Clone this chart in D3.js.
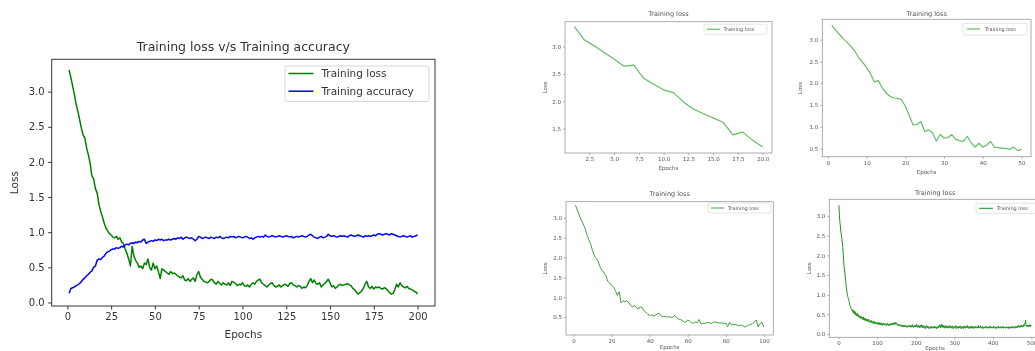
<!DOCTYPE html>
<html><head><meta charset="utf-8">
<script src="https://cdn.jsdelivr.net/npm/d3@7"></script>
<style>body{margin:0;background:#fff;} svg{display:block;font-family:"DejaVu Sans",sans-serif;}</style>
</head><body><svg id="c" width="1035" height="351"></svg>
<script>
const mainLoss = [3.31,3.20,3.08,2.96,2.82,2.72,2.60,2.48,2.38,2.34,
2.20,2.10,1.98,1.80,1.76,1.62,1.56,1.40,1.30,1.22,
1.13,1.06,1.02,0.98,0.96,0.93,0.92,0.94,0.90,0.92,
0.86,0.84,0.76,0.70,0.62,0.52,0.80,0.66,0.60,0.56,
0.50,0.52,0.48,0.56,0.54,0.62,0.50,0.46,0.56,0.48,
0.52,0.44,0.34,0.48,0.46,0.44,0.42,0.40,0.44,0.41,
0.42,0.40,0.38,0.36,0.35,0.38,0.32,0.31,0.34,0.30,
0.33,0.35,0.30,0.40,0.44,0.36,0.33,0.30,0.29,0.28,
0.30,0.33,0.32,0.28,0.26,0.30,0.27,0.25,0.28,0.26,
0.25,0.28,0.24,0.30,0.29,0.27,0.24,0.26,0.25,0.28,
0.24,0.23,0.25,0.22,0.26,0.28,0.26,0.30,0.32,0.33,
0.28,0.26,0.24,0.22,0.25,0.27,0.28,0.24,0.22,0.23,
0.25,0.22,0.24,0.26,0.25,0.23,0.27,0.28,0.25,0.24,
0.22,0.24,0.23,0.20,0.22,0.21,0.24,0.30,0.34,0.28,
0.32,0.27,0.26,0.28,0.22,0.25,0.27,0.30,0.33,0.28,
0.22,0.24,0.20,0.22,0.25,0.26,0.24,0.25,0.26,0.27,
0.25,0.24,0.20,0.18,0.15,0.12,0.14,0.16,0.20,0.26,
0.30,0.22,0.20,0.23,0.19,0.22,0.21,0.22,0.20,0.19,
0.21,0.20,0.17,0.14,0.12,0.13,0.18,0.26,0.22,0.28,
0.24,0.22,0.21,0.23,0.20,0.19,0.18,0.16,0.15,0.12];
const mainAcc = [0.13,0.20,0.21,0.22,0.24,0.25,0.27,0.30,0.33,0.35,
0.38,0.40,0.43,0.45,0.50,0.52,0.60,0.62,0.61,0.64,
0.66,0.70,0.72,0.73,0.75,0.76,0.76,0.78,0.77,0.78,
0.80,0.79,0.82,0.83,0.82,0.84,0.85,0.84,0.86,0.85,
0.87,0.86,0.89,0.90,0.84,0.86,0.87,0.88,0.87,0.89,
0.88,0.90,0.89,0.90,0.88,0.89,0.89,0.90,0.89,0.90,
0.91,0.90,0.92,0.91,0.93,0.90,0.92,0.93,0.92,0.91,
0.92,0.90,0.88,0.90,0.94,0.93,0.91,0.92,0.93,0.92,
0.91,0.93,0.92,0.91,0.93,0.92,0.94,0.92,0.91,0.92,
0.93,0.92,0.94,0.93,0.94,0.92,0.93,0.94,0.93,0.92,
0.93,0.94,0.93,0.91,0.92,0.90,0.92,0.93,0.94,0.93,
0.94,0.93,0.96,0.94,0.93,0.94,0.95,0.94,0.93,0.94,
0.95,0.94,0.93,0.94,0.95,0.94,0.93,0.94,0.92,0.93,
0.94,0.93,0.94,0.95,0.94,0.93,0.94,0.96,0.97,0.95,
0.93,0.92,0.91,0.93,0.94,0.92,0.93,0.94,0.97,0.95,
0.94,0.95,0.94,0.93,0.94,0.95,0.94,0.95,0.94,0.93,
0.95,0.96,0.95,0.94,0.95,0.96,0.95,0.94,0.93,0.95,
0.94,0.95,0.94,0.95,0.96,0.95,0.97,0.98,0.97,0.96,
0.97,0.98,0.97,0.96,0.98,0.97,0.96,0.95,0.94,0.93,
0.94,0.95,0.94,0.93,0.94,0.95,0.93,0.94,0.95,0.96];
const lossA = [3.36,3.12,3.01,2.89,2.77,2.64,2.66,2.42,2.31,2.21,
2.16,1.99,1.86,1.78,1.70,1.62,1.39,1.44,1.29,1.17];
const lossB = [3.33,3.22,3.12,3.02,2.94,2.84,2.73,2.58,2.48,2.36,
2.22,2.03,2.06,1.90,1.78,1.70,1.66,1.65,1.62,1.47,
1.26,1.04,1.05,1.12,0.89,0.93,0.86,0.67,0.82,0.74,
0.75,0.82,0.71,0.68,0.66,0.78,0.63,0.53,0.62,0.53,
0.58,0.66,0.53,0.52,0.50,0.50,0.48,0.53,0.45,0.48];
const lossC = [3.32,3.20,3.08,2.95,2.86,2.74,2.58,2.46,2.34,2.18,
2.04,1.98,1.90,1.76,1.68,1.62,1.55,1.40,1.36,1.30,
1.26,1.17,1.05,1.14,0.86,0.92,0.88,0.92,0.86,0.80,
0.75,0.80,0.74,0.70,0.76,0.74,0.66,0.62,0.58,0.54,
0.56,0.53,0.55,0.58,0.60,0.53,0.51,0.52,0.50,0.51,
0.50,0.49,0.54,0.50,0.46,0.44,0.42,0.38,0.37,0.43,
0.40,0.36,0.35,0.38,0.36,0.44,0.33,0.35,0.34,0.36,
0.37,0.34,0.36,0.38,0.37,0.36,0.35,0.36,0.34,0.35,
0.26,0.37,0.30,0.32,0.31,0.30,0.29,0.30,0.28,0.25,
0.27,0.30,0.31,0.34,0.38,0.43,0.25,0.34,0.37,0.25];
const lossD = [3.27,3.05,2.90,2.80,2.72,2.60,2.55,2.48,2.40,2.30,2.20,2.05,1.90,1.75,1.68,1.60,1.50,1.40,1.30,1.20,
1.12,1.05,1.00,0.95,0.92,0.88,0.85,0.80,0.76,0.72,0.70,0.66,0.64,0.62,0.60,0.58,0.62,0.54,0.60,0.56,
0.52,0.58,0.50,0.55,0.48,0.52,0.46,0.50,0.53,0.47,0.44,0.49,0.45,0.42,0.47,0.44,0.40,0.45,0.41,0.43,
0.38,0.42,0.37,0.40,0.44,0.36,0.39,0.35,0.41,0.37,0.34,0.38,0.36,0.33,0.37,0.32,0.35,0.38,0.31,0.34,
0.33,0.30,0.34,0.29,0.32,0.35,0.30,0.28,0.31,0.27,0.30,0.33,0.28,0.26,0.29,0.31,0.27,0.25,0.28,0.30,
0.26,0.29,0.24,0.27,0.30,0.25,0.28,0.23,0.26,0.29,0.24,0.27,0.25,0.22,0.26,0.28,0.24,0.26,0.23,0.25,
0.27,0.24,0.22,0.26,0.23,0.25,0.28,0.24,0.21,0.25,0.23,0.26,0.24,0.22,0.27,0.25,0.23,0.26,0.28,0.24,
0.27,0.25,0.29,0.26,0.24,0.28,0.30,0.25,0.27,0.29,0.26,0.23,0.25,0.22,0.24,0.21,0.23,0.25,0.22,0.20,
0.22,0.24,0.21,0.19,0.23,0.20,0.22,0.18,0.21,0.23,0.19,0.20,0.22,0.18,0.20,0.19,0.21,0.17,0.20,0.22,
0.19,0.21,0.18,0.20,0.23,0.19,0.17,0.20,0.22,0.18,0.21,0.24,0.19,0.17,0.21,0.18,0.20,0.23,0.19,0.21,
0.18,0.22,0.25,0.20,0.17,0.19,0.22,0.18,0.21,0.16,0.19,0.23,0.20,0.17,0.21,0.24,0.18,0.16,0.20,0.22,
0.19,0.15,0.18,0.21,0.17,0.14,0.19,0.22,0.18,0.16,0.20,0.17,0.15,0.19,0.16,0.14,0.18,0.15,0.17,0.20,
0.17,0.15,0.18,0.16,0.19,0.15,0.17,0.20,0.16,0.18,0.15,0.19,0.17,0.14,0.18,0.16,0.19,0.15,0.17,0.21,
0.18,0.23,0.19,0.16,0.22,0.25,0.18,0.21,0.17,0.24,0.20,0.17,0.21,0.18,0.15,0.19,0.22,0.17,0.20,0.16,
0.19,0.17,0.21,0.15,0.18,0.20,0.16,0.19,0.22,0.17,0.15,0.19,0.16,0.18,0.21,0.17,0.14,0.18,0.16,0.20,
0.17,0.15,0.19,0.22,0.17,0.14,0.18,0.16,0.20,0.17,0.15,0.19,0.16,0.18,0.21,0.16,0.14,0.18,0.20,0.17,
0.15,0.19,0.17,0.14,0.18,0.21,0.16,0.19,0.15,0.17,0.20,0.16,0.18,0.22,0.17,0.15,0.19,0.16,0.14,0.18,
0.20,0.16,0.18,0.15,0.19,0.17,0.21,0.16,0.14,0.18,0.15,0.19,0.17,0.20,0.16,0.18,0.15,0.17,0.19,0.16,
0.18,0.22,0.17,0.15,0.19,0.16,0.18,0.21,0.17,0.15,0.18,0.16,0.20,0.17,0.14,0.18,0.16,0.19,0.17,0.15,
0.19,0.16,0.18,0.20,0.16,0.15,0.18,0.17,0.15,0.19,0.16,0.18,0.21,0.17,0.15,0.18,0.16,0.19,0.17,0.15,
0.18,0.20,0.16,0.17,0.15,0.19,0.17,0.14,0.18,0.16,0.19,0.17,0.15,0.18,0.20,0.16,0.18,0.15,0.17,0.19,
0.16,0.18,0.15,0.17,0.20,0.16,0.18,0.15,0.19,0.17,0.16,0.18,0.15,0.17,0.19,0.16,0.18,0.15,0.17,0.19,
0.16,0.14,0.18,0.16,0.19,0.17,0.15,0.18,0.16,0.20,0.17,0.15,0.18,0.16,0.19,0.17,0.15,0.18,0.20,0.17,
0.19,0.16,0.18,0.21,0.17,0.19,0.22,0.18,0.20,0.17,0.19,0.22,0.18,0.20,0.23,0.19,0.21,0.18,0.20,0.24,
0.20,0.22,0.26,0.30,0.36,0.24,0.20,0.22,0.19,0.23,0.21,0.18,0.22,0.20,0.24,0.21,0.19,0.23,0.20,0.22];

const mainXTicks = [0,25,50,75,100,125,150,175,200];
const mainYTicks = [0,0.5,1,1.5,2,2.5,3];
const aXTicks = [2.5,5,7.5,10,12.5,15,17.5,20];
const aYTicks = [1.5,2,2.5,3];
const bXTicks = [0,10,20,30,40,50];
const bYTicks = [0.5,1,1.5,2,2.5,3];
const cXTicks = [0,20,40,60,80,100];
const cYTicks = [0.5,1,1.5,2,2.5,3];
const dXTicks = [0,100,200,300,400,500];
const dYTicks = [0,0.5,1,1.5,2,2.5,3];
const mainTitle = "Training loss v/s Training accuracy";
const smallTitle = "Training loss";
const seriesNames = ["Training loss","Training accuracy"];
const xLabel = "Epochs", yLabel = "Loss";

const svg = d3.select("#c");
svg.append("rect").attr("width",1035).attr("height",351).attr("fill","#fff");
const defs = svg.append("defs");
defs.append("filter").attr("id","soft").attr("x","-5%").attr("y","-5%").attr("width","110%").attr("height","110%")
  .append("feGaussianBlur").attr("stdDeviation",0.45);
const root = svg.append("g").attr("filter","url(#soft)");

function panel(o){
  const g = root.append("g");
  const x = d3.scaleLinear().domain(o.xDom).range([o.L,o.R]);
  const y = d3.scaleLinear().domain(o.yDom).range([o.B,o.T]);
  const cid = "clip"+o.id;
  defs.append("clipPath").attr("id",cid).append("rect")
    .attr("x",o.L).attr("y",o.T).attr("width",o.R-o.L).attr("height",o.B-o.T);
  const line = d3.line().x((d,i)=>x(i+1)).y(d=>y(d));
  o.series.forEach(s=>{
    g.append("path").datum(s.data).attr("d",line).attr("fill","none")
      .attr("stroke",s.color).attr("stroke-width",s.w).attr("stroke-linejoin","round")
      .attr("clip-path",`url(#${cid})`);
  });
  const xa = d3.axisBottom(x).tickValues(o.xTicks).tickFormat(o.xFmt)
    .tickSizeInner(o.tl).tickSizeOuter(0).tickPadding(o.tp);
  const ya = d3.axisLeft(y).tickValues(o.yTicks).tickFormat(o.yFmt)
    .tickSizeInner(o.tl).tickSizeOuter(0).tickPadding(o.tp);
  const gx = g.append("g").attr("transform",`translate(0,${o.B})`).call(xa);
  const gy = g.append("g").attr("transform",`translate(${o.L},0)`).call(ya);
  [gx,gy].forEach(a=>{
    a.select(".domain").remove();
    a.selectAll(".tick line").attr("stroke",o.axc).attr("stroke-width",o.sw);
    a.selectAll(".tick text").attr("fill",o.txc).attr("font-size",o.fs)
      .attr("font-family","DejaVu Sans, sans-serif");
  });
  g.append("rect").attr("x",o.L).attr("y",o.T).attr("width",o.R-o.L).attr("height",o.B-o.T)
    .attr("fill","none").attr("stroke",o.axc).attr("stroke-width",o.sw);
  g.append("text").attr("x",(o.L+o.R)/2).attr("y",o.T-o.titleOff).attr("text-anchor","middle")
    .attr("font-size",o.tfs).attr("fill",o.txc).text(o.title);
  g.append("text").attr("x",(o.L+o.R)/2).attr("y",o.B+o.xlOff).attr("text-anchor","middle")
    .attr("font-size",o.lfs).attr("fill",o.txc).text(xLabel);
  g.append("text").attr("transform",`translate(${o.L-o.ylOff},${(o.T+o.B)/2}) rotate(-90)`)
    .attr("text-anchor","middle").attr("font-size",o.lfs).attr("fill",o.txc).text(yLabel);
  const lg = o.legend;
  g.append("rect").attr("x",o.R-lg.right-lg.w).attr("y",o.T+lg.top).attr("width",lg.w).attr("height",lg.h)
    .attr("rx",lg.rx).attr("fill","#fff").attr("stroke",lg.stroke).attr("stroke-width",0.8);
  o.series.forEach((s,i)=>{
    const lx = o.R-lg.right-lg.w+lg.pad;
    const ly = o.T+lg.top+lg.first+i*lg.step;
    g.append("line").attr("x1",lx).attr("x2",lx+lg.len).attr("y1",ly).attr("y2",ly)
      .attr("stroke",s.color).attr("stroke-width",s.w+(lg.extra||0));
    g.append("text").attr("x",lx+lg.len+lg.gap).attr("y",ly).attr("dy","0.35em")
      .attr("font-size",lg.fs).attr("fill",o.txc).text(s.name);
  });
}

panel({id:"m",L:51.7,R:435,T:59.3,B:306,xDom:[-8.95,209.95],yDom:[-0.05,3.46],
  xTicks:mainXTicks,yTicks:mainYTicks,xFmt:d3.format("d"),yFmt:d3.format(".1f"),
  tl:3.5,tp:3.5,fs:10,axc:"#333",txc:"#333",sw:1,
  title:mainTitle,titleOff:8.5,tfs:12.5,xlOff:32,ylOff:34,lfs:10.5,
  series:[{data:mainLoss,color:"#008000",w:1.5,name:seriesNames[0]},
          {data:mainAcc,color:"#0000ff",w:1.5,name:seriesNames[1]}],
  legend:{right:6,top:6.7,w:144,h:35.5,rx:2,stroke:"#ccc",pad:3.5,first:7.5,step:17.7,len:25,gap:8,fs:10.5}
});

const small = {tl:2,tp:2,fs:5.5,axc:"#999",txc:"#555",sw:0.8,title:smallTitle,tfs:6.5,lfs:5.5};
panel(Object.assign({},small,{id:"a",L:565,R:772,T:21.7,B:153,xDom:[0.05,20.95],yDom:[1.06,3.45],
  xTicks:aXTicks,yTicks:aYTicks,xFmt:d3.format(".1f"),yFmt:d3.format(".1f"),
  titleOff:5.5,xlOff:17,ylOff:18,
  series:[{data:lossA,color:"#66bb66",w:1.2,name:seriesNames[0]}],
  legend:{right:5,top:2.5,w:63,h:10,rx:1,stroke:"#ddd",pad:3,first:5,step:0,len:13,gap:3.5,fs:5}}));
panel(Object.assign({},small,{id:"b",L:822.3,R:1031,T:19.3,B:156.7,xDom:[-1.45,52.45],yDom:[0.31,3.47],
  xTicks:bXTicks,yTicks:bYTicks,xFmt:d3.format("d"),yFmt:d3.format(".1f"),
  titleOff:3.5,xlOff:17,ylOff:20,
  series:[{data:lossB,color:"#66bb66",w:1.2,name:seriesNames[0]}],
  legend:{right:4,top:4,w:64,h:11.5,rx:1,stroke:"#ddd",pad:4,first:5.7,step:0,len:13,gap:5,fs:5}}));
panel(Object.assign({},small,{id:"c",L:566,R:773.3,T:201.7,B:335,xDom:[-3.95,104.95],yDom:[0.05,3.41],
  xTicks:cXTicks,yTicks:cYTicks,xFmt:d3.format("d"),yFmt:d3.format(".1f"),
  titleOff:6,xlOff:13.5,ylOff:19,
  series:[{data:lossC,color:"#3fa03f",w:1,name:seriesNames[0]}],
  legend:{right:2.3,top:1.3,w:63,h:10,rx:1,stroke:"#ddd",pad:3,first:5,step:0,len:13,gap:4,fs:5}}));
panel(Object.assign({},small,{id:"d",L:829.3,R:1041,T:199.3,B:337.3,xDom:[-23.95,524.95],yDom:[-0.08,3.42],
  xTicks:dXTicks,yTicks:dYTicks,xFmt:d3.format("d"),yFmt:d3.format(".1f"),
  titleOff:4,xlOff:13,ylOff:18,
  series:[{data:lossD,color:"#1f8f1f",w:1,name:seriesNames[0]}],
  legend:{right:1,top:4,w:64,h:10,rx:1,stroke:"#ddd",pad:3,first:5,step:0,len:14,gap:4,fs:5}}));
</script></body></html>
